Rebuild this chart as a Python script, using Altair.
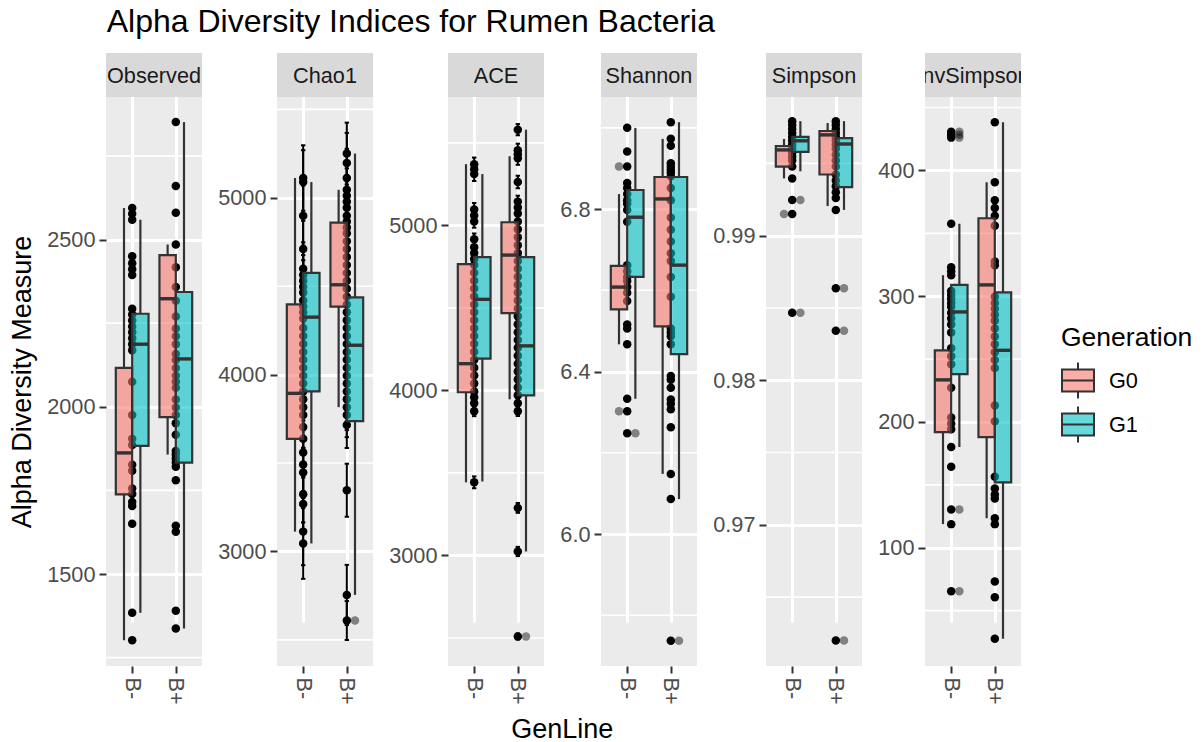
import json
import altair as alt
import pandas as pd

FONT = "Liberation Sans"
PANEL_W = 96
STRIP_H = 44
PLOT_H = 569
PANEL_H = STRIP_H + PLOT_H
HALF_BOX = 0.1875
CAP = 0.05

GENLINES = ["B-", "B+"]
GENERATIONS = ["G0", "G1"]
GENERATION_FILLS = ["rgba(248,118,109,0.6)", "rgba(0,191,196,0.6)"]
BOX_GENLINE = ["B-", "B-", "B+", "B+"]
BOX_GENERATION = ["G0", "G1", "G0", "G1"]

# ---------------- Observed ----------------
observed_bm = [2594, 2577, 2559, 2450, 2429, 2411, 2394, 2293, 2276, 2258, 2240, 2223, 2205, 2187,
               2169, 2075, 1975, 1904, 1886, 1827, 1809, 1756, 1739, 1715, 1703, 1650, 1384, 1302]
observed_bp = [2851, 2660, 2580, 2485, 2417, 2358, 2317, 2270, 2234, 2211, 2187, 2158, 2140, 2116,
               2093, 2075, 2057, 2022, 1998, 1975, 1951, 1916, 1868, 1857, 1845, 1833, 1821, 1780,
               1644, 1626, 1390, 1337]
observed_box = {"lower": [1302, 1384, 1857, 1337], "q1": [1738, 1883, 1969, 1833],
                "median": [1862, 2187, 2323, 2143], "q3": [2116, 2278, 2453, 2343],
                "upper": [2594, 2559, 2485, 2851]}
observed_out = []

# ---------------- Chao1 ----------------
chao1_bm = [5112, 5089, 4899, 4710, 4598, 4564, 4531, 4497, 4464, 4419, 4385, 4352, 4318, 4263,
            4218, 4173, 4128, 4084, 4039, 3994, 3950, 3905, 3860, 3816, 3771, 3704, 3637, 3559,
            3492, 3447, 3324, 3268, 3112, 3045]
chao1_bm_se = [185, 180, 170, 160, 150, 150, 145, 150, 140, 140, 135, 140, 130, 135,
               130, 125, 130, 125, 120, 130, 120, 125, 120, 130, 125, 120, 140, 130,
               150, 140, 160, 150, 190, 200]
chao1_bp = [5250, 5197, 5112, 5045, 5011, 4978, 4944, 4899, 4866, 4832, 4799, 4754, 4710, 4665,
            4620, 4575, 4531, 4486, 4441, 4397, 4352, 4307, 4263, 4218, 4173, 4128, 4084, 4039,
            3994, 3950, 3905, 3860, 3816, 3771, 3715, 3346, 2754, 2609]
chao1_bp_se = [175, 170, 165, 160, 155, 150, 150, 150, 145, 140, 145, 140, 140, 135,
               135, 130, 135, 130, 130, 125, 130, 125, 125, 120, 125, 120, 120, 125,
               120, 125, 120, 125, 130, 125, 130, 150, 170, 110]
chao1_box = {"lower": [3112, 3045, 3816, 2754], "q1": [3637, 3905, 4385, 3737],
             "median": [3894, 4325, 4508, 4166], "q3": [4397, 4575, 4859, 4437],
             "upper": [5112, 5089, 5045, 5250]}
chao1_out = [("B+", "G1", 2609)]

# ---------------- ACE ----------------
ace_bm = [5371, 5340, 5311, 5096, 5060, 5024, 4916, 4868, 4832, 4796, 4760, 4713, 4665, 4617,
          4569, 4521, 4473, 4425, 4377, 4330, 4282, 4234, 4186, 4138, 4090, 4042, 3994, 3958,
          3922, 3874, 3443]
ace_bm_se = [40, 38, 42, 40, 36, 38, 35, 37, 36, 34, 35, 36, 33, 35,
             34, 32, 34, 33, 31, 32, 33, 31, 30, 32, 31, 30, 32, 30,
             31, 30, 36]
ace_bp = [5580, 5455, 5431, 5407, 5263, 5144, 5108, 5072, 5024, 4976, 4928, 4880, 4832, 4784,
          4737, 4689, 4641, 4593, 4545, 4497, 4449, 4401, 4353, 4305, 4258, 4210, 4162, 4114,
          4066, 4018, 3970, 3922, 3874, 3288, 3024, 2509]
ace_bp_se = [34, 40, 38, 40, 38, 36, 35, 36, 34, 35, 33, 34, 33, 32,
             33, 32, 31, 32, 31, 30, 31, 30, 31, 30, 29, 30, 29, 30,
             29, 30, 29, 30, 29, 30, 28, 18]
ace_box = {"lower": [3443, 3448, 3946, 3024], "q1": [3989, 4193, 4468, 3970],
           "median": [4162, 4552, 4820, 4270], "q3": [4765, 4808, 5019, 4808],
           "upper": [5371, 5311, 5419, 5580]}
ace_out = [("B+", "G1", 2509)]

# ---------------- Shannon ----------------
shannon_bm = [7.000, 6.942, 6.905, 6.864, 6.852, 6.837, 6.822, 6.813, 6.798, 6.769, 6.662, 6.647,
              6.633, 6.623, 6.608, 6.594, 6.574, 6.516, 6.506, 6.467, 6.333, 6.302, 6.248]
shannon_bp = [7.014, 6.973, 6.956, 6.913, 6.905, 6.897, 6.890, 6.881, 6.852, 6.822, 6.779, 6.749,
              6.720, 6.691, 6.672, 6.633, 6.584, 6.506, 6.496, 6.487, 6.467, 6.389, 6.380, 6.360,
              6.331, 6.321, 6.307, 6.263, 6.148, 6.086, 5.737]
shannon_box = {"lower": [6.467, 6.333, 6.148, 6.086], "q1": [6.553, 6.633, 6.511, 6.443],
               "median": [6.608, 6.780, 6.825, 6.662], "q3": [6.660, 6.847, 6.879, 6.879],
               "upper": [6.837, 7.000, 6.973, 7.014]}
shannon_out = [("B-", "G0", 6.905), ("B-", "G0", 6.302), ("B-", "G1", 6.248), ("B+", "G1", 5.737)]

# ---------------- Simpson ----------------
simpson_bm = [0.99792, 0.99765, 0.99738, 0.99710, 0.99683, 0.99656, 0.99628, 0.99601, 0.99574,
              0.99546, 0.99519, 0.99478, 0.99396, 0.99246, 0.99150, 0.98467]
simpson_bp = [0.99792, 0.99765, 0.99738, 0.99710, 0.99683, 0.99656, 0.99628, 0.99601, 0.99560,
              0.99519, 0.99478, 0.99423, 0.99382, 0.99342, 0.99301, 0.99260, 0.99178, 0.98637,
              0.98342, 0.96200]
simpson_box = {"lower": [0.99396, 0.99445, 0.99205, 0.99178], "q1": [0.99478, 0.99579, 0.99423, 0.99336],
               "median": [0.99593, 0.99656, 0.99697, 0.99634], "q3": [0.99620, 0.99683, 0.99724, 0.99675],
               "upper": [0.99669, 0.99792, 0.99779, 0.99792]}
simpson_out = [("B-", "G0", 0.99150), ("B-", "G1", 0.99246), ("B-", "G1", 0.98467),
               ("B+", "G1", 0.98637), ("B+", "G1", 0.98342), ("B+", "G1", 0.96200)]

# ---------------- InvSimpson ----------------
invsimpson_bm = [430.8, 428.3, 426.1, 357.6, 323.0, 319.9, 316.7, 304.2, 301.0, 297.9, 294.7,
                 291.6, 286.9, 282.2, 277.5, 271.2, 258.6, 252.3, 246.0, 227.2, 203.6, 198.9,
                 194.2, 180.1, 164.4, 130.4, 118.8, 65.4]
invsimpson_bp = [438.3, 390.6, 376.4, 370.2, 363.9, 356.0, 327.7, 324.6, 299.5, 294.7, 290.0,
                 285.3, 280.6, 274.3, 268.0, 261.8, 255.5, 249.2, 242.9, 213.1, 200.5, 156.5,
                 147.1, 142.4, 139.2, 123.5, 118.8, 73.2, 60.7, 27.7]
invsimpson_box = {"lower": [118.8, 180.1, 123.5, 27.7], "q1": [192, 238, 188, 152],
                  "median": [233.5, 287.5, 309, 257], "q3": [257, 309, 362, 303],
                  "upper": [316.7, 357.6, 390.6, 438.3]}
invsimpson_out = [("B-", "G1", 430.8), ("B-", "G1", 428.3), ("B-", "G1", 426.1),
                  ("B-", "G1", 130.4), ("B-", "G1", 65.4)]

XPOS = f"indexof({json.dumps(GENLINES)}, datum.GenLine) + 1"
DODGE = f"datum.xpos + (datum.Generation == '{GENERATIONS[0]}' ? -{HALF_BOX} : {HALF_BOX})"

# boxplot glyph for the legend keys
BOX_GLYPH = "M-1,-0.69H1V0.69H-1Z M-1,0H1 M0,-0.69V-1.12 M0,0.69V1.12"

LEGEND = alt.Legend(
    title="Generation", orient="none", legendX=955, legendY=272,
    symbolType=BOX_GLYPH, symbolSize=1024, symbolStrokeColor="#333333", symbolStrokeWidth=2,
    labelFont=FONT, labelFontSize=21.7, labelColor="black", labelOffset=14,
    titleFont=FONT, titleFontSize=26.5, titleFontWeight="normal", titleColor="black",
    titlePadding=12, rowPadding=0,
)


def make_panel(label, vals_bm, vals_bp, stats, outliers, domain, major, minor, fmt,
               se_bm=None, se_bp=None, y_title=None):
    xs = alt.Scale(domain=[0.4, 2.6], nice=False, zero=False)
    ys = alt.Scale(domain=domain, range=[PANEL_H, STRIP_H], nice=False, zero=False)

    pts = pd.DataFrame({"GenLine": ["B-"] * len(vals_bm) + ["B+"] * len(vals_bp),
                        "value": vals_bm + vals_bp})
    if se_bm is not None:
        pts["se"] = se_bm + se_bp
    boxes = pd.DataFrame({"GenLine": BOX_GENLINE, "Generation": BOX_GENERATION, **stats})

    # identical axis definitions on every layer so the merged axes stay intact
    xa = alt.Axis(values=[1, 2], labelExpr="datum.value == 1 ? 'B-' : 'B+'", labelAngle=90,
                  grid=True, title=None, labelFlush=False)
    if y_title:
        ya = alt.Axis(values=major, format=fmt, grid=True, labelFlush=False, title=y_title,
                      titlePadding=10, titleY=STRIP_H + PLOT_H / 2)
    else:
        ya = alt.Axis(values=major, format=fmt, grid=True, labelFlush=False, title=None)

    def X(field):
        return alt.X(field, scale=xs, axis=xa)

    def Y(field):
        return alt.Y(field, scale=ys, axis=ya)

    layers = []
    # minor grid lines
    layers.append(
        alt.Chart(pd.DataFrame({"value": minor})).mark_rule(color="white", strokeWidth=1.6).encode(
            x=alt.value(0), x2=alt.value(PANEL_W), y=Y("value:Q"))
    )
    # sample points
    layers.append(
        alt.Chart(pts).transform_calculate(xpos=XPOS)
        .mark_circle(size=72, color="black", opacity=1)
        .encode(x=X("xpos:Q"), y=Y("value:Q"))
    )
    # standard-error bars for the richness estimators
    if se_bm is not None:
        eb = alt.Chart(pts).transform_calculate(
            xpos=XPOS, lo="datum.value - datum.se", hi="datum.value + datum.se",
            capl=f"datum.xpos - {CAP}", capr=f"datum.xpos + {CAP}")
        layers.append(eb.mark_rule(color="black", strokeWidth=2).encode(
            x=X("xpos:Q"), y=Y("lo:Q"), y2="hi:Q"))
        layers.append(eb.transform_fold(["lo", "hi"], as_=["end", "yv"])
                      .mark_rule(color="black", strokeWidth=2).encode(
            x=X("capl:Q"), x2="capr:Q", y=Y("yv:Q")))
    # boxplot outliers
    if outliers:
        outl = pd.DataFrame(outliers, columns=["GenLine", "Generation", "value"])
        layers.append(
            alt.Chart(outl).transform_calculate(xpos=XPOS, xc=DODGE)
            .mark_circle(size=72, color="black", opacity=0.45)
            .encode(x=X("xc:Q"), y=Y("value:Q"))
        )
    bx = alt.Chart(boxes).transform_calculate(
        xpos=XPOS, xc=DODGE, xl=f"datum.xc - {HALF_BOX}", xr=f"datum.xc + {HALF_BOX}")
    # whiskers
    layers.append(bx.mark_rule(color="#333333", strokeWidth=2.2).encode(
        x=X("xc:Q"), y=Y("lower:Q"), y2="q1:Q"))
    layers.append(bx.mark_rule(color="#333333", strokeWidth=2.2).encode(
        x=X("xc:Q"), y=Y("q3:Q"), y2="upper:Q"))
    # boxes
    layers.append(bx.mark_rect(stroke="#333333", strokeWidth=2.2).encode(
        x=X("xl:Q"), x2="xr:Q", y=Y("q1:Q"), y2="q3:Q",
        fill=alt.Fill("Generation:N", scale=alt.Scale(domain=GENERATIONS, range=GENERATION_FILLS),
                      legend=LEGEND)))
    # medians
    layers.append(bx.mark_rule(color="#333333", strokeWidth=3.4).encode(
        x=X("xl:Q"), x2="xr:Q", y=Y("median:Q")))
    # facet strip
    strip = alt.Chart(pd.DataFrame({"label": [label]}))
    layers.append(strip.mark_rect(fill="#D9D9D9").encode(
        x=alt.value(0), x2=alt.value(PANEL_W), y=alt.value(0), y2=alt.value(STRIP_H)))
    layers.append(strip.mark_text(clip=True, font=FONT, fontSize=21.7, color="#1A1A1A",
                                  align="center", baseline="middle").encode(
        x=alt.value(PANEL_W / 2), y=alt.value(STRIP_H / 2 + 1), text="label:N"))

    return alt.layer(*layers).properties(width=PANEL_W, height=PANEL_H)


panels = [
    make_panel("Observed", observed_bm, observed_bp, observed_box, observed_out, [1225, 2926],
               [1500, 2000, 2500], [1250, 1750, 2250, 2750], "d", y_title="Alpha Diversity Measure"),
    make_panel("Chao1", chao1_bm, chao1_bp, chao1_box, chao1_out, [2352, 5570],
               [3000, 4000, 5000], [2500, 3500, 4500, 5500], "d", se_bm=chao1_bm_se, se_bp=chao1_bp_se),
    make_panel("ACE", ace_bm, ace_bp, ace_box, ace_out, [2330, 5778],
               [3000, 4000, 5000], [2500, 3500, 4500, 5500], "d", se_bm=ace_bm_se, se_bp=ace_bp_se),
    make_panel("Shannon", shannon_bm, shannon_bp, shannon_box, shannon_out, [5.675, 7.076],
               [6.0, 6.4, 6.8], [5.8, 6.2, 6.6, 7.0], ".1f"),
    make_panel("Simpson", simpson_bm, simpson_bp, simpson_box, simpson_out, [0.96024, 0.99959],
               [0.97, 0.98, 0.99], [0.965, 0.975, 0.985, 0.995], ".2f"),
    make_panel("InvSimpson", invsimpson_bm, invsimpson_bp, invsimpson_box, invsimpson_out, [6, 458.4],
               [100, 200, 300, 400], [50, 150, 250, 350, 450], "d"),
]

inner = alt.hconcat(*panels, spacing=14).resolve_scale(
    x="independent", y="independent", fill="shared"
).properties(
    title=alt.TitleParams("GenLine", orient="bottom", anchor="middle", font=FONT, fontSize=27,
                          fontWeight="normal", color="black", offset=13, dx=47)
)

chart = alt.vconcat(inner).properties(
    title=alt.TitleParams("Alpha Diversity Indices for Rumen Bacteria", anchor="start", font=FONT,
                          fontSize=32, fontWeight="normal", color="black", offset=14, dx=98),
    padding={"left": 8, "top": 6, "right": 3, "bottom": 5},
).configure_view(
    fill="#EBEBEB", strokeWidth=0
).configure_axis(
    labelFont=FONT, labelFontSize=21.7, labelColor="#4D4D4D", tickColor="#333333", tickWidth=2,
    tickSize=7, labelPadding=4, domain=False, gridColor="white", gridWidth=3,
    titleFont=FONT, titleFontSize=27, titleFontWeight="normal", titleColor="black"
)

chart.save("out.html", embed_options={"renderer": "svg", "actions": False})
